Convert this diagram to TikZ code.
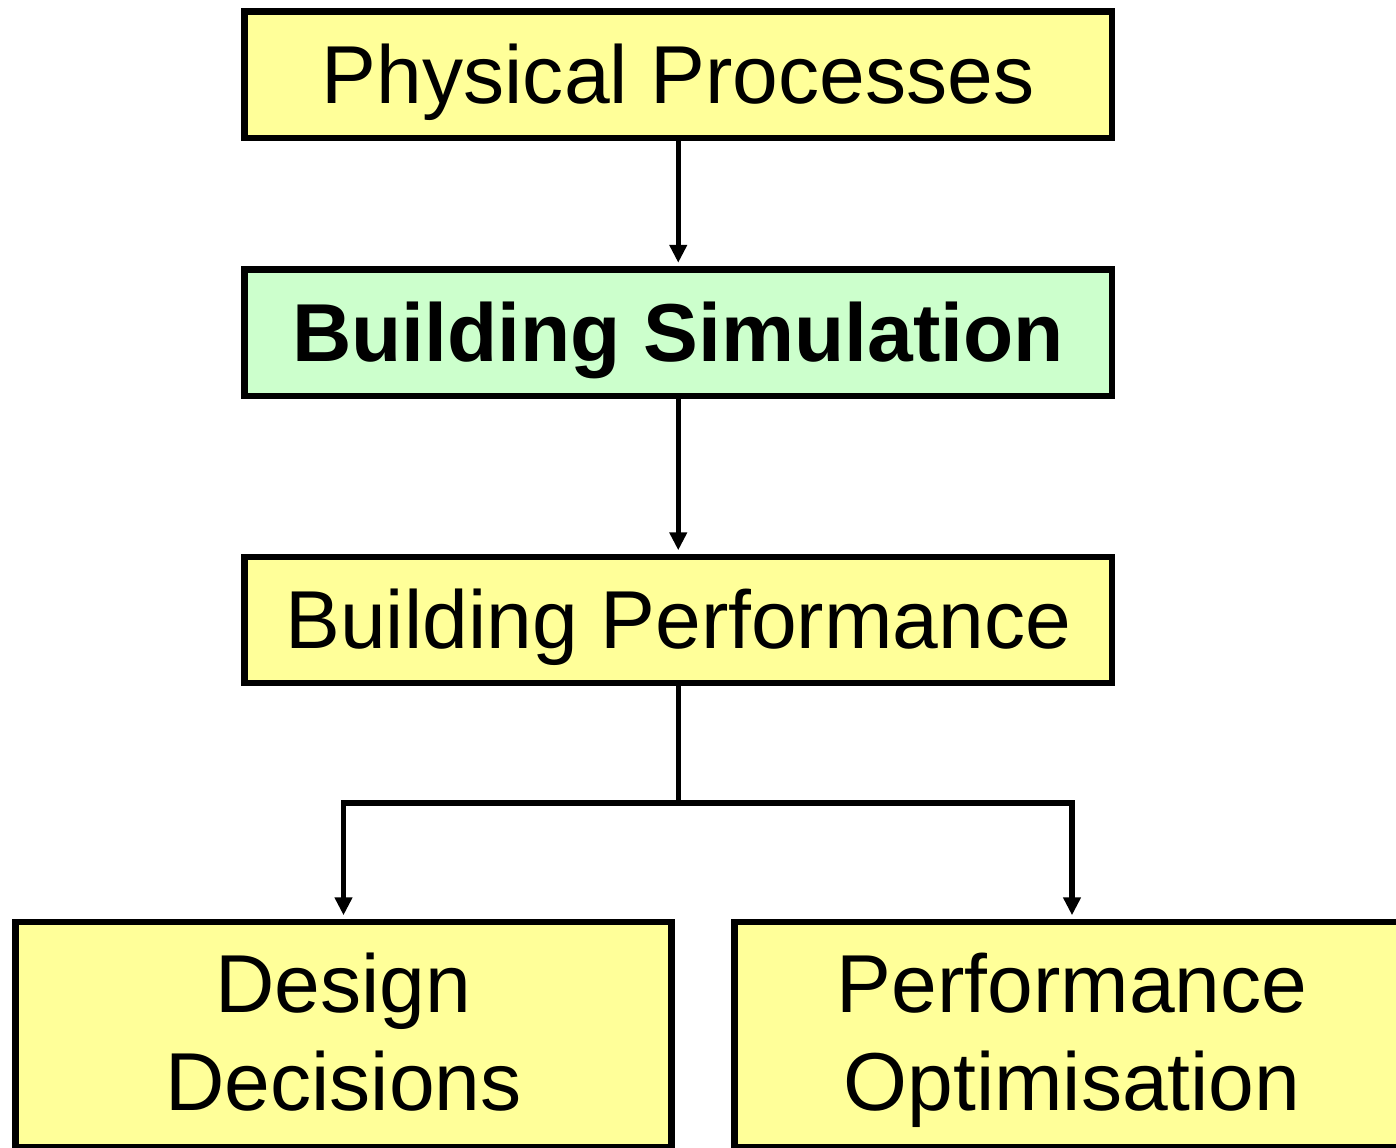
\documentclass[tikz,border=0pt]{standalone}
\usepackage{fontspec}
\setmainfont{Liberation Sans}
\usetikzlibrary{arrows.meta}
\definecolor{boxyellow}{RGB}{255,255,153}
\definecolor{boxgreen}{RGB}{204,255,204}
\tikzset{
  box/.style={draw=black, line width=3.25pt, fill=boxyellow, rectangle, inner sep=0pt,
    font=\fontsize{41.1}{49}\selectfont, text height=30.5pt, text depth=2pt},
  twoline/.style={align=center, text height=77.5pt, text depth=2pt},
  arr/.style={line width=2.75pt, line join=miter, -{Triangle[width=8.5pt,length=9pt]}, shorten >=1.75pt}
}
\begin{document}
\begin{tikzpicture}[x=0.5pt,y=-0.5pt]
\path[use as bounding box, clip] (0,0) rectangle (1396,1147);
\node[box, minimum width=433.75pt, minimum height=63.25pt] (pp) at (678.25,74.75) {Physical Processes};
\node[box, fill=boxgreen, minimum width=433.75pt, minimum height=63.25pt] (bs) at (678.25,332.75) {\bfseries Building Simulation};
\node[box, minimum width=433.75pt, minimum height=63pt] (bp) at (678.25,620) {Building Performance};
\node[box, twoline, minimum width=328pt, minimum height=112.5pt] (dd) at (343.5,1034.5) {Design\\Decisions};
\node[box, twoline, minimum width=337.5pt, minimum height=112.5pt] (po) at (1072,1034.5) {Performance\\Optimisation};
\coordinate (split) at (678.25,803);
\draw[arr] (pp.south) -- (bs.north);
\draw[arr] (bs.south) -- (bp.north);
\draw[line width=2.75pt] (bp.south) -- (split);
\draw[arr] (split) -| (dd.north);
\draw[arr] (split) -| (po.north);
\end{tikzpicture}
\end{document}
